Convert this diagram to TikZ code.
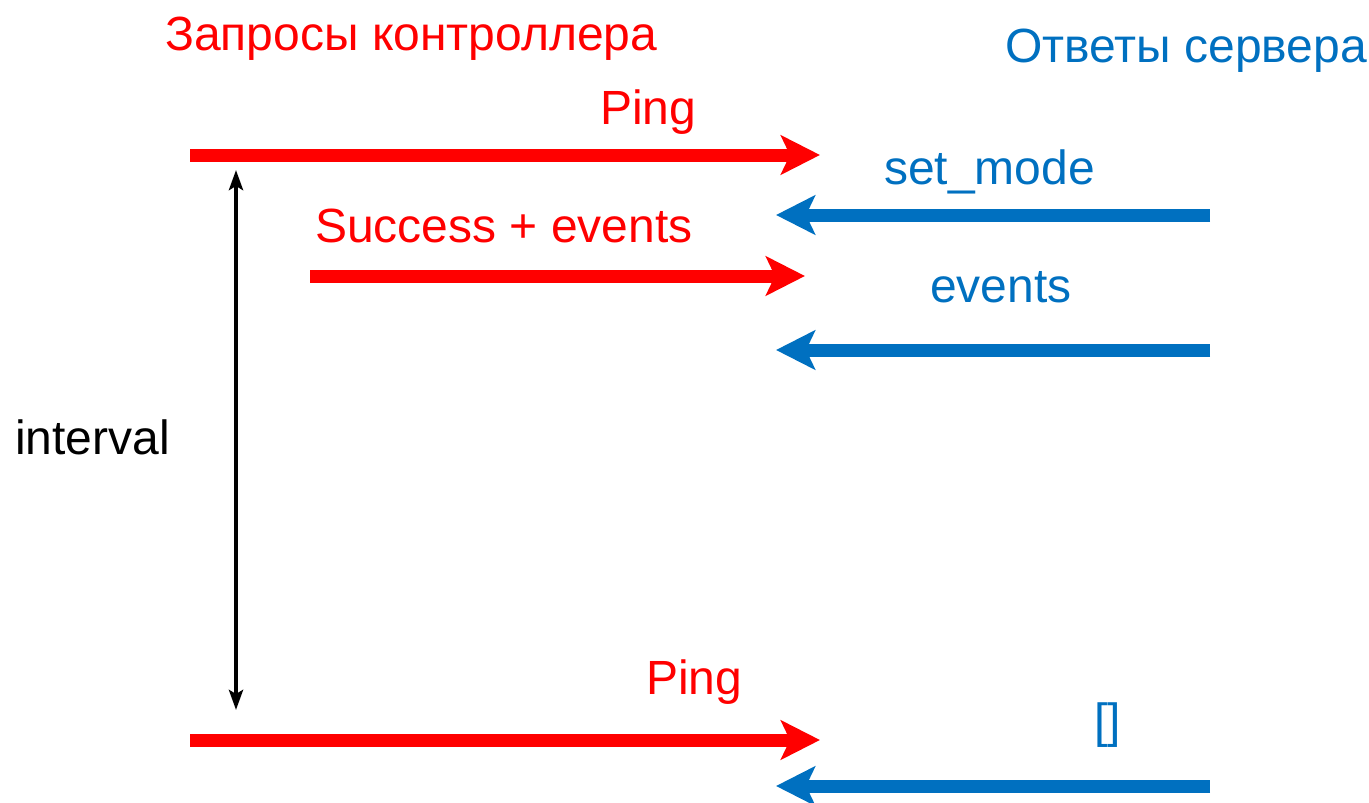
\documentclass[tikz,border=0pt]{standalone}
\usepackage{fontspec}
\setmainfont{Liberation Sans}
\usetikzlibrary{arrows.meta}
\definecolor{cred}{HTML}{FF0000}
\definecolor{cblue}{HTML}{0070C0}
\tikzset{
  lbl/.style={anchor=base west, inner sep=0pt, font=\fontsize{48}{57}\selectfont},
  req/.style={draw=cred, line width=13pt, -{Stealth[length=39pt,width=39pt,inset=9pt]}},
  rsp/.style={draw=cblue, line width=13pt, -{Stealth[length=39pt,width=39pt,inset=9pt]}},
  intv/.style={draw=black, line width=4pt, {Stealth[length=20pt,width=14pt,inset=4pt]}-{Stealth[length=20pt,width=14pt,inset=4pt]}}
}
\begin{document}
\begin{tikzpicture}[x=1pt,y=-1pt]
\useasboundingbox (0,0) rectangle (1369,803);
\node[lbl, text=cred] (t1) at (165,50) {Запросы контроллера};
\node[lbl, text=cblue] (t2) at (1005,62) {Ответы сервера};
\node[lbl, text=cred] (p1) at (600,124) {Ping};
\node[lbl, text=cblue] (sm) at (884,184) {set\_mode};
\node[lbl, text=cred] (se) at (315,242) {Success + events};
\node[lbl, text=cblue] (ev) at (930,302) {events};
\node[lbl, text=black] (iv) at (15,454) {interval};
\node[lbl, text=cred] (p2) at (646,694) {Ping};
\node[lbl, text=cblue] (br) at (1094,737) {[]};

\coordinate (r1a) at (190,155); \coordinate (r1b) at (820,155);
\coordinate (b1a) at (1210,215); \coordinate (b1b) at (776,215);
\coordinate (r2a) at (310,276); \coordinate (r2b) at (805,276);
\coordinate (b2a) at (1210,350); \coordinate (b2b) at (776,350);
\coordinate (r3a) at (190,740); \coordinate (r3b) at (820,740);
\coordinate (b3a) at (1210,786); \coordinate (b3b) at (776,786);
\coordinate (va) at (236,170); \coordinate (vb) at (236,710);

\draw[req] (r1a) -- (r1b);
\draw[rsp] (b1a) -- (b1b);
\draw[req] (r2a) -- (r2b);
\draw[rsp] (b2a) -- (b2b);
\draw[req] (r3a) -- (r3b);
\draw[rsp] (b3a) -- (b3b);
\draw[intv] (va) -- (vb);
\end{tikzpicture}
\end{document}
